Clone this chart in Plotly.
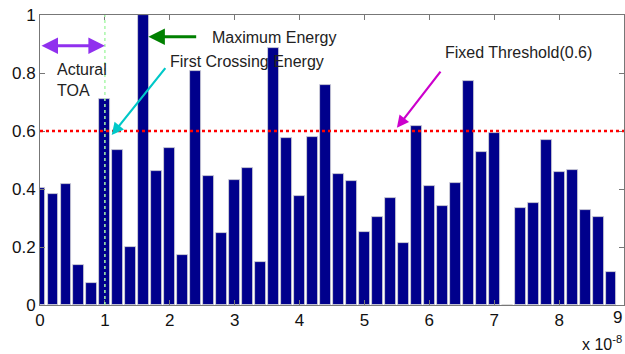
import plotly.graph_objects as go

# Time axis (x 1e-8 s) and normalised energy per bin
times = [0.0, 0.2, 0.4, 0.6, 0.8, 1.0, 1.2, 1.4, 1.6, 1.8,
         2.0, 2.2, 2.4, 2.6, 2.8, 3.0, 3.2, 3.4, 3.6, 3.8,
         4.0, 4.2, 4.4, 4.6, 4.8, 5.0, 5.2, 5.4, 5.6, 5.8,
         6.0, 6.2, 6.4, 6.6, 6.8, 7.0, 7.2, 7.4, 7.6, 7.8,
         8.0, 8.2, 8.4, 8.6, 8.8]
energy = [0.405, 0.382, 0.417, 0.138, 0.075, 0.710, 0.534, 0.199, 1.000, 0.462,
          0.542, 0.172, 0.807, 0.446, 0.247, 0.431, 0.471, 0.148, 0.885, 0.575,
          0.376, 0.580, 0.759, 0.453, 0.428, 0.252, 0.305, 0.368, 0.214, 0.618,
          0.409, 0.342, 0.422, 0.773, 0.526, 0.594, 0.0, 0.336, 0.353, 0.569,
          0.460, 0.467, 0.328, 0.302, 0.115]
threshold = 0.6
actual_toa = 1.0
x_ticks = [0, 1, 2, 3, 4, 5, 6, 7, 8, 9]
y_ticks = [0, 0.2, 0.4, 0.6, 0.8, 1]
y_tick_text = ["0", "0.2", "0.4", "0.6", "0.8", "1"]

FONT = "Liberation Sans, Arial, sans-serif"

fig = go.Figure()
fig.add_trace(go.Bar(
    x=times, y=energy, width=0.168,
    marker=dict(color="rgb(0,0,140)", line=dict(color="#d8d8d8", width=0.8)),
    showlegend=False,
))

# threshold line and actual TOA line
fig.add_shape(type="line", xref="x", yref="y", x0=0, x1=9, y0=threshold, y1=threshold,
              line=dict(color="red", width=2.5, dash="dot"), layer="above")
fig.add_shape(type="line", xref="x", yref="y", x0=actual_toa, x1=actual_toa, y0=0, y1=1,
              line=dict(color="#aaf7aa", width=1.5, dash="dot"), layer="above")

def arrow(x, y, ax, ay, color, width, side="end"):
    fig.add_annotation(x=x, y=y, ax=ax, ay=ay, xref="x", yref="y", axref="x", ayref="y",
                       text="", showarrow=True, arrowhead=2, arrowsize=1.1,
                       arrowwidth=width, arrowcolor=color, arrowside=side,
                       startarrowhead=2, startarrowsize=1.1)

def label(x, y, text):
    fig.add_annotation(x=x, y=y, xref="x", yref="y", text=text, showarrow=False,
                       xanchor="left", yanchor="middle", align="left",
                       font=dict(family=FONT, size=16, color="#222"))

# Actual TOA double arrow
arrow(actual_toa, 0.894, 0.0, 0.894, "#9030ee", 3, side="end+start")
label(0.225, 0.776, "Actural<br>TOA")

# Maximum energy
arrow(1.67, 0.925, 2.43, 0.925, "#008000", 3)
label(2.62, 0.924, "Maximum Energy")

# First crossing
arrow(1.105, 0.586, 1.95, 0.822, "#00c8c8", 2.2)
label(1.97, 0.838, "First Crossing Energy")

# Fixed threshold
arrow(5.50, 0.611, 6.19, 0.810, "#cc00cc", 2.2)
label(6.21, 0.871, "Fixed Threshold(0.6)")

axis_common = dict(showgrid=False, zeroline=False, showline=True, linecolor="#777",
                   linewidth=1, mirror="ticks", ticks="inside", ticklen=5, tickcolor="#777",
                   tickfont=dict(family=FONT, size=17, color="#111"))

fig.update_layout(
    width=625, height=354,
    margin=dict(l=40, r=1, t=15, b=49),
    paper_bgcolor="white", plot_bgcolor="white",
    bargap=0,
    xaxis=dict(range=[0, 9], tickvals=x_ticks[:-1], ticktext=[str(v) for v in x_ticks[:-1]],
               **axis_common),
    yaxis=dict(range=[0, 1], tickvals=y_ticks, ticktext=y_tick_text, **axis_common),
    font=dict(family=FONT),
)

# last x tick label (sits at the right edge)
fig.add_annotation(x=1.0, y=0, xref="paper", yref="paper", xanchor="right", yanchor="top",
                   yshift=-1, text=str(x_ticks[-1]), showarrow=False,
                   font=dict(family=FONT, size=17, color="#111"))

# exponent label at bottom right
fig.add_annotation(x=1.0, y=0, xref="paper", yref="paper", xanchor="right",
                   yanchor="middle", yshift=-38, text="x 10<sup>-8</sup>", showarrow=False,
                   font=dict(family=FONT, size=16, color="#111"))

fig.write_html("out.html")
